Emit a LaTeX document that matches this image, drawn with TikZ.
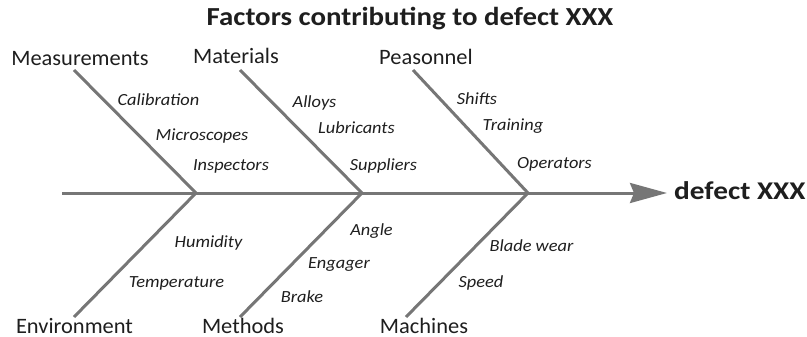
\documentclass[tikz,border=0pt]{standalone}
\usepackage{fontspec}
\setmainfont{Carlito}
\newfontfamily\catfont[FakeStretch=1.02]{Carlito}
\newfontfamily\subfont[FakeStretch=1.08]{Carlito}
\newfontfamily\ttlfont[FakeStretch=1.11]{Carlito}
\newfontfamily\effont[FakeStretch=1.15]{Carlito}
\usetikzlibrary{arrows.meta}
\definecolor{bone}{RGB}{118,118,118}
\definecolor{ink}{RGB}{30,30,30}
\begin{document}
\begin{tikzpicture}[x=1pt,y=-1pt,
  bonel/.style={draw=bone,line width=3pt},
  cat/.style={anchor=base,inner sep=0pt,text=ink,font=\catfont\fontsize{22}{24}\selectfont},
  sub/.style={anchor=base,inner sep=0pt,text=ink,font=\subfont\fontsize{17}{19}\selectfont\itshape},
  ttl/.style={anchor=base,inner sep=0pt,text=ink,font=\ttlfont\fontsize{26}{28}\selectfont\bfseries}]
\useasboundingbox (0,0) rectangle (807,337);
% title
\node[ttl] (title) at (410,26) {Factors contributing to defect XXX};
% effect
\node[anchor=base west,inner sep=0pt,inner xsep=7pt,text=ink,font=\effont\fontsize{25.5}{27}\selectfont\bfseries] (effect) at (667,199) {defect XXX};
% spine
\coordinate (tail) at (62,193);
\coordinate (j1) at (196,193);
\coordinate (j2) at (362,193);
\coordinate (j3) at (528,193);
\draw[bonel,-{Stealth[length=37pt,width=20pt,inset=4pt]}] (tail) -- (effect.west |- tail);
% upper bones
\coordinate (u1) at (74,70);
\coordinate (u2) at (240,70);
\coordinate (u3) at (413,70);
\draw[bonel] (u1) -- (j1);
\draw[bonel] (u2) -- (j2);
\draw[bonel] (u3) -- (j3);
% lower bones
\coordinate (l1) at (74,317);
\coordinate (l2) at (240,317);
\coordinate (l3) at (406,317);
\draw[bonel] (l1) -- (j1);
\draw[bonel] (l2) -- (j2);
\draw[bonel] (l3) -- (j3);
% categories
\node[cat] (meas) at (80,66) {Measurements};
\node[cat] (mat) at (236,64) {Materials};
\node[cat] (pers) at (426,65) {Peasonnel};
\node[cat] (env) at (74.5,333) {Environment};
\node[cat] (meth) at (243,333) {Methods};
\node[cat] (mach) at (424,333) {Machines};
% sub causes
\node[sub] (s1) at (158.5,106) {Calibration};
\node[sub] (s2) at (202,140) {Microscopes};
\node[sub] (s3) at (231,171) {Inspectors};
\node[sub] (s4) at (314.5,107) {Alloys};
\node[sub] (s5) at (356.5,133) {Lubricants};
\node[sub] (s6) at (383.5,170) {Suppliers};
\node[sub] (s7) at (477,105) {Shifts};
\node[sub] (s8) at (513,131) {Training};
\node[sub] (s9) at (554.5,168) {Operators};
\node[sub] (s10) at (208.5,247) {Humidity};
\node[sub] (s11) at (176.5,287) {Temperature};
\node[sub] (s12) at (371.5,235) {Angle};
\node[sub] (s13) at (339,268) {Engager};
\node[sub] (s14) at (302,302) {Brake};
\node[sub] (s15) at (531.5,251) {Blade wear};
\node[sub] (s16) at (481,287) {Speed};
\end{tikzpicture}
\end{document}
